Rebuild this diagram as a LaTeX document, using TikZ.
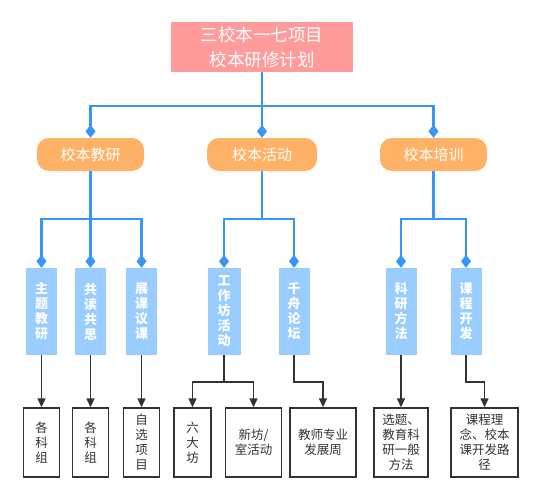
\documentclass[tikz,border=0pt]{standalone}
\usepackage{fontspec}
\setmainfont{Noto Sans CJK SC}
\usetikzlibrary{arrows.meta, positioning}

\definecolor{titlepink}{HTML}{FF9B9B}
\definecolor{grouporange}{HTML}{FFB266}
\definecolor{itemblue}{HTML}{99CCFF}
\definecolor{linkblue}{HTML}{3896F5}
\definecolor{inkgray}{HTML}{333333}

\tikzset{
  headbox/.style={fill=titlepink, text=white, minimum width=182pt, minimum height=50pt,
    align=center, font=\fontsize{17.5}{25}\selectfont},
  groupbox/.style={fill=grouporange, text=white, rounded corners=12pt,
    minimum width=107pt, minimum height=33pt, font=\fontsize{15}{18}\selectfont},
  itembox/.style={fill=itemblue, text=white, minimum width=31pt, minimum height=87pt,
    align=center, font=\fontsize{13}{15}\selectfont\bfseries},
  leafbox/.style={draw=inkgray, line width=1.4pt, fill=white, text=inkgray,
    minimum height=69pt, align=center, font=\fontsize{12.5}{15}\selectfont},
  bluelink/.style={draw=linkblue, line width=2.5pt, -{Diamond[length=13pt,width=10pt]}},
  graylink/.style={draw=inkgray, line width=1.5pt, ->}
}

\begin{document}
\begin{tikzpicture}[x=1pt, y=-1pt, >={Triangle[length=9pt,width=8pt]}, inner sep=0pt]
    \useasboundingbox (0,0) rectangle (540,500);

    \node[headbox] at (262, 47) (plan) {三校本一七项目\\校本研修计划};

    \node[groupbox] at (90.5, 154.5) (jy) {校本教研};
    \node[groupbox, minimum width=110pt] at (262, 154.5) (hd) {校本活动};
    \node[groupbox] at (433.5, 154.5) (px) {校本培训};

    \node[itembox] at (41.5, 311.5) (ztjy) {主\\题\\教\\研};
    \node[itembox] at (90.5, 311.5) (gdgs) {共\\读\\共\\思};
    \node[itembox] at (141.5, 311.5) (zkyk) {展\\课\\议\\课};
    \node[itembox, minimum width=33pt] at (224, 311.5) (gzf) {工\\作\\坊\\活\\动};
    \node[itembox] at (294, 311.5) (qzlt) {千\\舟\\论\\坛};
    \node[itembox] at (401, 311.5) (kyff) {科\\研\\方\\法};
    \node[itembox] at (466, 311.5) (kckf) {课\\程\\开\\发};

    \node[leafbox, minimum width=36pt] at (41.5, 442.5) (gkz1) {各\\科\\组};
    \node[leafbox, minimum width=36pt] at (90.5, 442.5) (gkz2) {各\\科\\组};
    \node[leafbox, minimum width=36pt] at (141.5, 442.5) (zxxm) {自\\选\\项\\目};
    \node[leafbox, minimum width=37pt] at (192.5, 442.5) (ldf) {六\\大\\坊};
    \node[leafbox, minimum width=56pt] at (253.5, 442.5) (xfs) {新坊/\\室活动};
    \node[leafbox, minimum width=66pt] at (323, 442.5) (jszy) {教师专业\\发展周};
    \node[leafbox, minimum width=54pt] at (401, 442.5) (xtff) {选题、\\教育科\\研一般\\方法};
    \node[leafbox, minimum width=67pt] at (484.5, 442.5) (kcln) {课程理\\念、校本\\课开发路\\径};

    \coordinate (bar0) at (262, 106);
    \coordinate (bar1) at (90.5, 219);
    \coordinate (bar2) at (262, 219);
    \coordinate (bar3) at (433.5, 219);

    \draw[bluelink] (plan.south) -- (bar0) -| (jy.north);
    \draw[bluelink] (plan.south) -- (hd.north);
    \draw[bluelink] (plan.south) -- (bar0) -| (px.north);

    \draw[bluelink] (jy.south) -- (bar1) -| (ztjy.north);
    \draw[bluelink] (jy.south) -- (gdgs.north);
    \draw[bluelink] (jy.south) -- (bar1) -| (zkyk.north);
    \draw[bluelink] (hd.south) -- (bar2) -| (gzf.north);
    \draw[bluelink] (hd.south) -- (bar2) -| (qzlt.north);
    \draw[bluelink] (px.south) -- (bar3) -| (kyff.north);
    \draw[bluelink] (px.south) -- (bar3) -| (kckf.north);

    \draw[graylink] (ztjy) -- (gkz1);
    \draw[graylink] (gdgs) -- (gkz2);
    \draw[graylink] (zkyk) -- (zxxm);
    \draw[graylink] (gzf.south) -- ++(0,27) -| (ldf.north);
    \draw[graylink] (gzf.south) -- ++(0,27) -| (xfs.north);
    \draw[graylink] (qzlt.south) -- ++(0,27) -| (jszy.north);
    \draw[graylink] (kyff) -- (xtff);
    \draw[graylink] (kckf.south) -- ++(0,27) -| (kcln.north);
\end{tikzpicture}
\end{document}
